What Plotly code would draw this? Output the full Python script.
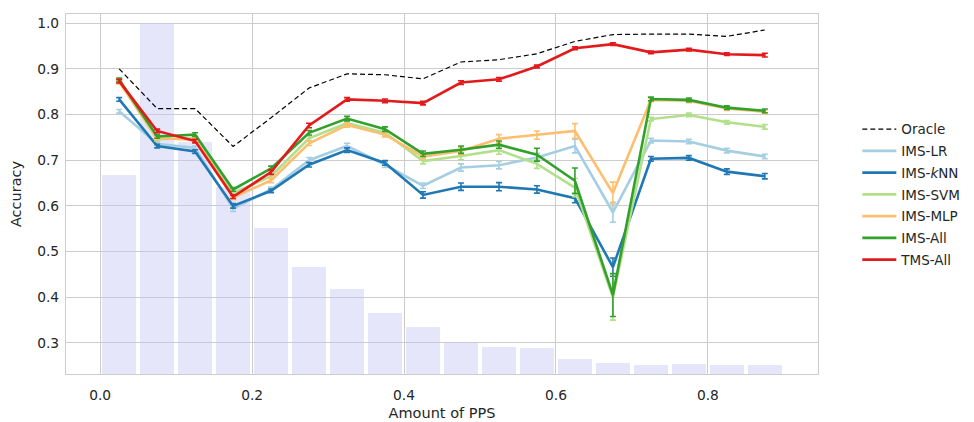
import plotly.graph_objects as go

# ---- data ----
pps_x = [0.025, 0.075, 0.125, 0.175, 0.225, 0.275, 0.325, 0.375, 0.425,
         0.475, 0.525, 0.575, 0.625, 0.675, 0.725, 0.775, 0.825, 0.875]

# relative share of samples per PPS bin (normalised, max = 1)
pps_share = [0.568, 1.000, 0.660, 0.533, 0.417, 0.305, 0.241, 0.173, 0.133,
             0.091, 0.077, 0.0755, 0.044, 0.031, 0.025, 0.029, 0.027, 0.027]

oracle = [0.900, 0.813, 0.813, 0.730, 0.793, 0.858, 0.889, 0.887, 0.878,
          0.915, 0.920, 0.933, 0.960, 0.975, 0.976, 0.976, 0.971, 0.985]
ims_lr = [0.807, 0.736, 0.727, 0.594, 0.636, 0.700, 0.731, 0.690, 0.644,
          0.684, 0.689, 0.706, 0.731, 0.586, 0.743, 0.741, 0.721, 0.708]
ims_knn = [0.833, 0.731, 0.719, 0.600, 0.633, 0.690, 0.722, 0.694, 0.624,
           0.642, 0.642, 0.636, 0.617, 0.466, 0.703, 0.705, 0.675, 0.665]
ims_svm = [0.874, 0.746, 0.748, 0.628, 0.665, 0.748, 0.781, 0.760, 0.698,
           0.709, 0.722, 0.692, 0.640, 0.400, 0.790, 0.799, 0.783, 0.773]
ims_mlp = [0.871, 0.748, 0.745, 0.618, 0.656, 0.737, 0.777, 0.756, 0.708,
           0.720, 0.747, 0.755, 0.764, 0.628, 0.832, 0.830, 0.813, 0.806]
ims_all = [0.876, 0.752, 0.756, 0.636, 0.682, 0.760, 0.791, 0.768, 0.714,
           0.723, 0.734, 0.712, 0.655, 0.405, 0.834, 0.832, 0.815, 0.808]
tms_all = [0.873, 0.764, 0.742, 0.620, 0.674, 0.776, 0.833, 0.830, 0.825,
           0.870, 0.877, 0.905, 0.945, 0.954, 0.936, 0.942, 0.932, 0.930]

err_lr = [0.004, 0.004, 0.004, 0.006, 0.005, 0.006, 0.006, 0.006, 0.006,
          0.008, 0.008, 0.009, 0.015, 0.022, 0.005, 0.005, 0.005, 0.005]
err_knn = [0.004, 0.004, 0.004, 0.005, 0.004, 0.005, 0.005, 0.005, 0.007,
           0.008, 0.009, 0.008, 0.010, 0.020, 0.005, 0.005, 0.006, 0.006]
err_svm = [0.004, 0.004, 0.004, 0.004, 0.005, 0.005, 0.005, 0.005, 0.006,
           0.008, 0.009, 0.010, 0.020, 0.050, 0.004, 0.004, 0.004, 0.005]
err_mlp = [0.004, 0.004, 0.004, 0.004, 0.005, 0.005, 0.005, 0.005, 0.006,
           0.008, 0.009, 0.009, 0.016, 0.024, 0.004, 0.004, 0.004, 0.004]
err_all = [0.004, 0.004, 0.004, 0.004, 0.005, 0.005, 0.005, 0.005, 0.006,
           0.008, 0.008, 0.014, 0.028, 0.047, 0.004, 0.004, 0.004, 0.004]
err_tms = [0.004, 0.004, 0.004, 0.004, 0.005, 0.005, 0.004, 0.004, 0.004,
           0.004, 0.004, 0.003, 0.003, 0.003, 0.003, 0.003, 0.003, 0.004]

series = [
    ("IMS-LR", ims_lr, err_lr, "#a6cee3"),
    ("IMS-<i>k</i>NN", ims_knn, err_knn, "#1f78b4"),
    ("IMS-SVM", ims_svm, err_svm, "#b2df8a"),
    ("IMS-MLP", ims_mlp, err_mlp, "#fdbf6f"),
    ("IMS-All", ims_all, err_all, "#33a02c"),
    ("TMS-All", tms_all, err_tms, "#e31a1c"),
]

FONT = "DejaVu Sans"
TXT = "#262626"
GRID = "#cccccc"

fig = go.Figure()

# background histogram of PPS (on hidden axis y)
fig.add_trace(go.Bar(
    x=pps_x, y=pps_share, width=0.0455,
    marker=dict(color="rgba(200,200,245,0.45)", line=dict(width=0)),
    showlegend=False, hoverinfo="skip", yaxis="y",
))

fig.add_trace(go.Scatter(
    x=pps_x, y=oracle, name="Oracle", mode="lines", yaxis="y2",
    legendgroup="Oracle",
    line=dict(color="black", width=1.2, dash="5px,3px"),
))

for name, vals, errs, col in series:
    fig.add_trace(go.Scatter(
        x=pps_x, y=vals, name=name, mode="lines", yaxis="y2",
        legendgroup=name,
        line=dict(color=col, width=2.6),
        error_y=dict(type="data", array=errs, visible=True,
                     color=col, thickness=1.6, width=3),
    ))

fig.update_layout(
    width=974, height=422,
    margin=dict(l=58, r=164, t=6, b=56),
    paper_bgcolor="white", plot_bgcolor="white",
    font=dict(family=FONT, size=14, color=TXT),
    bargap=0,
    xaxis=dict(
        range=[-0.045, 0.945],
        tickvals=[0.0, 0.2, 0.4, 0.6, 0.8], tickformat=".1f",
        showgrid=True, gridcolor=GRID, gridwidth=1,
        showline=True, linecolor=GRID, linewidth=1.3, mirror=True,
        zeroline=False, ticks="", ticklabelstandoff=8,
        title=dict(text="Amount of PPS", font=dict(size=14.5), standoff=6),
        tickfont=dict(size=13.8),
        automargin=False,
    ),
    yaxis=dict(
        range=[0, 1.026], visible=False, showgrid=False, zeroline=False,
    ),
    yaxis2=dict(
        overlaying="y", side="left",
        range=[0.232, 1.02],
        tickvals=[0.3, 0.4, 0.5, 0.6, 0.7, 0.8, 0.9, 1.0], tickformat=".1f",
        showgrid=True, gridcolor=GRID, gridwidth=1,
        showline=True, linecolor=GRID, linewidth=1.3, mirror=True,
        zeroline=False, ticks="", ticklabelstandoff=3,
        title=dict(text="Accuracy", font=dict(size=14.5), standoff=14),
        tickfont=dict(size=13.8),
        automargin=False,
    ),
    legend=dict(
        xref="container", yref="paper",
        x=0.872, y=0.7227, xanchor="left", yanchor="top",
        font=dict(size=13.5, color=TXT),
        bgcolor="rgba(0,0,0,0)", borderwidth=0,
        itemwidth=34, tracegroupgap=1.2,
    ),
)

fig.write_html("out.html")
